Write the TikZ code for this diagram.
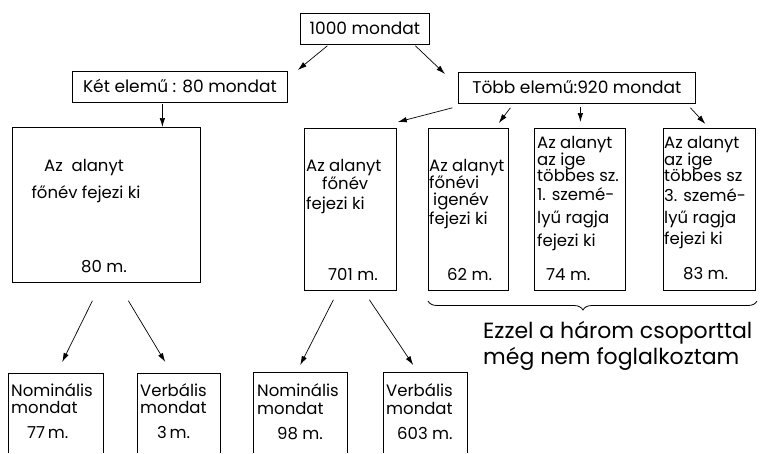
\documentclass[tikz,border=0pt]{standalone}
\usepackage{fontspec}
\setmainfont{Poppins}
\usetikzlibrary{arrows.meta,calc,decorations.pathreplacing}
\begin{document}
\begin{tikzpicture}[x=1pt,y=-1pt,
  box/.style={draw, line width=0.8pt, inner sep=0pt, anchor=north west},
  openbox/.style={inner sep=0pt, anchor=north west},
  txt/.style={inner sep=0pt, anchor=base west, font=\fontsize{16.5}{19}\selectfont},
  head/.style={inner sep=0pt, anchor=base, font=\fontsize{17}{20}\selectfont},
  note/.style={inner sep=0pt, anchor=base west, font=\fontsize{22}{26}\selectfont},
  arr/.style={line width=0.7pt, -{Latex[length=9pt,width=5.5pt]}},
  side/.style={line width=0.8pt}]
\useasboundingbox (0,0) rectangle (760,453);

% top level
\node[box, minimum width=129pt, minimum height=31pt] (top) at (300,13) {};
\node[head] (toptxt) at ($(top.center)+(0,6)$) {1000 mondat};
\node[box, minimum width=215pt, minimum height=31pt] (ket) at (72,71) {};
\node[head] (kettxt) at ($(ket.center)+(0,6)$) {Két elemű : 80 mondat};
\node[box, minimum width=237pt, minimum height=31pt] (tobb) at (458,72) {};
\node[head] (tobbtxt) at ($(tobb.center)+(0,6)$) {Több elemű:920 mondat};

% second level
\node[box, minimum width=188pt, minimum height=155pt] (big) at (12,127) {};
\node[txt, anchor=base] (big1) at (84,171) {Az\ \ alanyt};
\node[txt, anchor=base] (big2) at (86,198) {főnév fejezi ki};
\node[txt, anchor=base] (big3) at (104,272) {80 m.};

\node[box, minimum width=92pt, minimum height=162pt] (b701) at (304,128) {};
\node[txt] (b701a) at (306,171) {Az alanyt};
\node[txt] (b701b) at (322,189) {főnév};
\node[txt] (b701c) at (306,209) {fejezi ki};
\node[txt] (b701d) at (328,280) {701 m.};

\node[box, minimum width=80pt, minimum height=162pt] (b62) at (428,128) {};
\node[txt] (b62a) at (429,171) {Az alanyt};
\node[txt] (b62b) at (429,188) {főnévi};
\node[txt] (b62c) at (433,205) {igenév};
\node[txt] (b62d) at (429,224) {fejezi ki};
\node[txt] (b62e) at (447,280) {62 m.};

\node[box, minimum width=91pt, minimum height=162pt] (b74) at (534,128) {};
\node[txt] (b74a) at (537,148) {Az alanyt};
\node[txt] (b74b) at (537,165) {az ige};
\node[txt] (b74c) at (537,181) {többes sz.};
\node[txt] (b74d) at (537,200) {1. szemé-};
\node[txt] (b74e) at (537,223) {lyű ragja};
\node[txt] (b74f) at (537,246) {fejezi ki};
\node[txt] (b74g) at (546,280) {74 m.};

\node[box, minimum width=92pt, minimum height=162pt] (b83) at (663,128) {};
\node[txt] (b83a) at (664,148) {Az alanyt};
\node[txt] (b83b) at (664,165) {az ige};
\node[txt] (b83c) at (664,181) {többes sz};
\node[txt] (b83d) at (664,201) {3. szemé-};
\node[txt] (b83e) at (664,223) {lyű ragja};
\node[txt] (b83f) at (664,244) {fejezi ki};
\node[txt] (b83g) at (683,279) {83 m.};

% third level (open at the bottom)
\node[openbox, minimum width=95pt, minimum height=80pt] (n77) at (8,373) {};
\node[openbox, minimum width=83pt, minimum height=80pt] (v3) at (137,373) {};
\node[openbox, minimum width=94pt, minimum height=81pt] (n98) at (253,372) {};
\node[openbox, minimum width=84pt, minimum height=81pt] (v603) at (383,372) {};
\foreach \b in {n77,v3,n98,v603}
  \draw[side] (\b.south west) |- (\b.north east) -- (\b.south east);

\node[txt] (n77a) at (11,396) {Nominális};
\node[txt] (n77b) at (11,413) {mondat};
\node[txt] (n77c) at (27,438) {77\,m.};
\node[txt] (v3a) at (140,396) {Verbális};
\node[txt] (v3b) at (140,413) {mondat};
\node[txt] (v3c) at (157,438) {3\,m.};
\node[txt] (n98a) at (257,396) {Nominális};
\node[txt] (n98b) at (257,414) {mondat};
\node[txt] (n98c) at (277,439) {98 m.};
\node[txt] (v603a) at (386,396) {Verbális};
\node[txt] (v603b) at (386,414) {mondat};
\node[txt] (v603c) at (397,439) {603 m.};

% arrows
\draw[arr] ($(top.south)+(-37.5,1)$) -- ($(ket.north east)+(10,-1)$);
\draw[arr] ($(top.south)+(50.5,1)$) -- ($(tobb.north west)+(-13,2)$);
\draw[arr] ($(ket.south)+(-17.5,1)$) -- ($(big.north)+(56,0)$);
\draw[arr] ($(tobb.south)+(-124.5,4)$) -- ($(b701.north east)+(1,-6)$);
\draw[arr] ($(tobb.south)+(-66.5,4)$) -- ($(b62.north east)+(-10,-5)$);
\draw[arr] ($(tobb.south)+(3.5,3)$) -- ($(b74.north)+(0.5,-6)$);
\draw[arr] ($(tobb.south)+(113.5,4)$) -- ($(b83.north)+(-4,-4)$);
\draw[arr] ($(big.south)+(-14,18)$) -- ($(n77.north)+(6.5,-11)$);
\draw[arr] ($(big.south)+(22,18)$) -- ($(v3.north)+(-13.5,-11)$);
\draw[arr] ($(b701.south)+(-17,9)$) -- ($(n98.north)+(0,-7)$);
\draw[arr] ($(b701.south)+(19,9)$) -- ($(v603.north)+(-12,-7)$);

% brace and note
\coordinate (brL) at (428,301);
\coordinate (brR) at (757,301);
\draw[line width=0.8pt, decorate, decoration={brace, amplitude=9pt, aspect=0.471, mirror}] (brL) -- (brR);
\node[note] (note1) at (483,338) {Ezzel a három csoporttal};
\node[note] (note2) at (483,364) {még nem foglalkoztam};
\end{tikzpicture}
\end{document}
